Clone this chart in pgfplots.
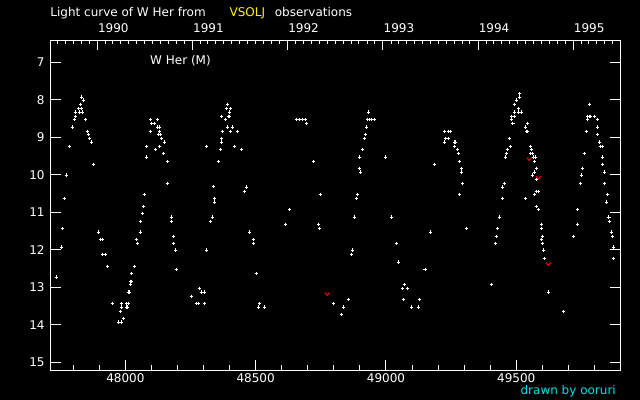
\documentclass[border=0pt]{standalone}
\usepackage{fontspec}
\setmainfont{DejaVu Sans}
\usepackage{pgfplots}
\pgfplotsset{compat=1.18}
\pgfdeclareplotmark{vee}{%
  \pgfpathmoveto{\pgfpoint{-\pgfplotmarksize}{0.6\pgfplotmarksize}}%
  \pgfpathlineto{\pgfpoint{0pt}{-0.6\pgfplotmarksize}}%
  \pgfpathlineto{\pgfpoint{\pgfplotmarksize}{0.6\pgfplotmarksize}}%
  \pgfusepathqstroke}
\pgfplotsset{
  common/.style={
    at={(50.5bp,29.7bp)}, anchor=south west, scale only axis,
    width=569.8bp, height=330bp,
    xmin=47712.5, xmax=49899.4, ymin=6.413, ymax=15.213, y dir=reverse,
    axis line style={white, line width=1bp},
    tick style={white, line width=1bp},
    tick align=inside,
    scaled ticks=false,
    ticklabel style={white, font=\fontsize{12bp}{14bp}\selectfont, inner sep=0pt},
    /pgf/number format/assume math mode=true,
    /pgf/number format/set thousands separator={},
    /pgf/number format/fixed,
  }
}
\pgfplotstableread{
jd mag
47734.8 12.73
47754.0 11.93
47757.8 11.43
47765.5 10.63
47773.0 10.01
47784.7 9.24
47796.0 8.73
47803.8 8.52
47807.7 8.44
47807.7 8.33
47819.0 8.23
47830.7 8.23
47826.9 8.12
47832.0 7.93
47838.4 8.01
47823.0 8.33
47834.5 8.33
47846.0 8.52
47853.7 8.84
47857.6 8.92
47861.4 9.03
47869.0 9.13
47876.8 9.72
47896.0 11.53
47903.6 11.72
47911.3 11.72
47911.3 12.12
47922.8 12.12
47930.5 12.44
47949.7 13.43
47984.0 13.43
48003.4 13.43
48011.0 13.43
47984.0 13.53
47980.4 13.64
48003.4 13.53
48007.0 13.53
47972.7 13.93
47984.0 13.93
47992.0 13.83
48011.0 13.13
48015.0 13.13
48018.8 12.92
48018.8 12.84
48022.6 12.84
48022.6 12.63
48034.0 12.44
48041.8 11.72
48045.6 11.83
48057.2 11.53
48057.2 11.24
48064.8 11.03
48068.7 10.84
48072.5 10.52
48080.2 9.53
48080.2 9.24
48095.5 8.84
48095.5 8.52
48099.4 8.63
48111.0 8.63
48122.4 8.52
48122.4 8.73
48130.0 8.73
48130.0 8.84
48126.0 8.92
48134.0 8.92
48137.7 9.03
48149.3 9.13
48130.0 9.24
48114.7 9.32
48145.4 9.43
48160.8 9.64
48160.8 10.23
48176.0 11.13
48176.0 11.24
48183.8 11.64
48183.8 11.83
48191.5 12.01
48195.3 12.52
48252.9 13.24
48283.6 13.03
48291.3 13.13
48302.8 13.13
48272.0 13.43
48279.7 13.43
48302.8 13.43
48310.5 12.01
48310.5 9.24
48325.8 11.24
48333.5 11.13
48341.2 10.63
48341.2 10.73
48337.3 10.31
48356.5 9.64
48364.2 9.32
48368.0 9.13
48368.0 9.03
48371.9 8.84
48368.0 8.44
48383.4 8.52
48387.2 8.23
48402.6 8.23
48391.0 8.12
48398.7 8.33
48395.0 8.44
48398.7 8.44
48391.0 8.73
48410.2 8.73
48402.6 8.84
48429.5 8.84
48418.0 9.24
48444.8 9.32
48464.0 10.33
48456.3 10.44
48475.5 11.53
48490.9 11.72
48490.9 11.83
48502.4 12.63
48514.0 13.43
48510.0 13.53
48533.0 13.53
48613.7 11.32
48629.0 10.92
48657.5 8.52
48667.6 8.52
48680.5 8.52
48690.5 8.52
48694.3 8.63
48721.2 9.64
48748.0 10.52
48740.4 11.32
48744.2 11.43
48798.0 13.43
48836.3 13.53
48828.6 13.72
48855.5 13.32
48870.8 12.01
48867.0 12.12
48878.5 11.13
48886.2 10.63
48890.0 10.52
48897.7 9.83
48901.5 9.93
48897.7 9.53
48909.2 9.32
48917.0 9.03
48920.7 8.92
48924.5 8.73
48932.2 8.33
48928.4 8.52
48936.0 8.52
48943.7 8.52
48955.0 8.52
48997.4 9.53
49020.5 11.13
49039.7 11.83
49047.4 12.33
49150.0 12.52
49070.4 12.92
49062.7 13.03
49081.9 13.03
49066.6 13.32
49128.0 13.32
49097.3 13.53
49124.2 13.53
49170.3 11.53
49185.6 9.72
49223.9 8.84
49239.3 8.84
49247.0 8.84
49227.8 9.03
49239.3 9.03
49223.9 9.13
49262.3 9.13
49266.0 9.13
49262.3 9.24
49274.0 9.32
49277.7 9.43
49281.5 9.64
49289.2 9.83
49289.2 9.93
49293.0 10.23
49281.5 10.52
49308.0 11.43
49404.3 12.92
49419.6 11.83
49423.4 11.64
49427.3 11.43
49435.0 11.13
49446.5 10.63
49446.5 10.33
49454.2 10.23
49458.0 9.53
49461.8 9.43
49465.7 9.32
49477.2 9.24
49473.3 9.03
49487.5 8.63
49482.5 8.52
49482.5 8.44
49492.5 8.44
49492.5 8.33
49507.8 8.33
49519.4 8.33
49507.8 8.23
49492.5 8.12
49501.4 8.01
49511.5 7.93
49511.5 7.83
49542.2 8.63
49534.5 8.73
49540.0 8.84
49544.0 8.84
49555.5 9.24
49559.3 9.32
49555.5 9.43
49563.2 9.43
49565.5 9.53
49573.2 9.53
49569.4 9.64
49577.0 9.83
49569.4 9.93
49561.7 10.01
49577.0 10.12
49577.0 10.44
49584.7 10.44
49569.4 10.52
49536.3 10.63
49577.0 10.84
49586.0 10.92
49596.3 11.32
49596.3 11.43
49600.1 11.64
49596.3 11.72
49600.1 11.83
49603.9 12.01
49607.8 12.23
49623.1 13.13
49680.6 13.64
49719.1 11.64
49734.4 11.32
49734.4 10.92
49745.8 10.23
49749.6 10.01
49753.5 9.83
49761.2 9.43
49768.8 8.84
49772.7 8.52
49772.7 8.44
49780.4 8.44
49784.2 8.44
49799.6 8.44
49781.4 8.12
49811.0 8.52
49811.0 8.73
49811.0 8.92
49818.7 9.13
49822.5 9.24
49830.2 9.24
49830.2 9.53
49831.8 9.72
49837.9 9.93
49837.9 10.23
49849.4 10.52
49845.6 10.73
49856.0 11.13
49857.1 11.24
49864.8 11.53
49868.6 11.64
49872.5 11.93
49873.7 12.23
}\obsdata
\pgfplotstableread{
jd mag
48774.8 13.18
49550.0 9.58
49584.7 10.07
49623.1 12.38
}\limdata
\begin{document}
\begin{tikzpicture}
\fill[black] (0,0) rectangle (640bp,400bp);
\begin{axis}[common,
  xtick={48000,48500,49000,49500},
  minor xtick={47800,47900,48100,48200,48300,48400,48600,48700,48800,48900,49100,49200,49300,49400,49600,49700,49800},
  xtick pos=left, xticklabel pos=left,
  ytick={7,8,9,10,11,12,13,14,15}, ytick pos=both, yticklabel pos=left,
  major tick length=10bp, minor tick length=5bp,
  xticklabel style={anchor=north, yshift=-3bp},
  yticklabel style={anchor=east, xshift=-5.7bp},
]
\addplot[only marks, mark=+, mark size=1.7bp, white, line width=1bp] table[x=jd, y=mag] {\obsdata};
\addplot[only marks, mark=vee, mark size=2.3bp, red, line width=1bp] table[x=jd, y=mag] {\limdata};
\end{axis}
\begin{axis}[common,
  xtick={47892.5,48257.5,48622.5,48988.5,49353.5,49718.5},
  xticklabels={1990,1991,1992,1993,1994,1995},
  minor xtick={47739.5,47770.5,47800.5,47831.5,47861.5,
    47923.5,47951.5,47982.5,48012.5,48043.5,48073.5,48104.5,48135.5,48165.5,48196.5,48226.5,
    48288.5,48316.5,48347.5,48377.5,48408.5,48438.5,48469.5,48500.5,48530.5,48561.5,48591.5,
    48653.5,48682.5,48713.5,48743.5,48774.5,48804.5,48835.5,48866.5,48896.5,48927.5,48957.5,
    49019.5,49047.5,49078.5,49108.5,49139.5,49169.5,49200.5,49231.5,49261.5,49292.5,49322.5,
    49384.5,49412.5,49443.5,49473.5,49504.5,49534.5,49565.5,49596.5,49626.5,49657.5,49687.5,
    49749.5,49777.5,49808.5,49838.5,49869.5},
  xtick pos=right, xticklabel pos=right,
  ytick=\empty,
  major tick length=10bp, minor tick length=4bp,
  xticklabel style={anchor=base west, yshift=8bp, xshift=0.5bp},
]
\end{axis}
\node[anchor=base west, inner sep=0pt, white, font=\fontsize{12bp}{14bp}\selectfont] at (50.2bp,383bp) {Light curve of W Her from};
\node[anchor=base west, inner sep=0pt, yellow, font=\fontsize{12bp}{14bp}\selectfont] at (229.4bp,383bp) {VSOLJ};
\node[anchor=base west, inner sep=0pt, white, font=\fontsize{12bp}{14bp}\selectfont] at (274.7bp,383bp) {observations};
\node[anchor=base west, inner sep=0pt, white, font=\fontsize{12bp}{14bp}\selectfont] at (150bp,335.8bp) {W Her (M)};
\node[anchor=base west, inner sep=0pt, font=\fontsize{12bp}{14bp}\selectfont, text={rgb,255:red,0;green,225;blue,230}] at (520.4bp,6bp) {drawn by ooruri};
\end{tikzpicture}
\end{document}
